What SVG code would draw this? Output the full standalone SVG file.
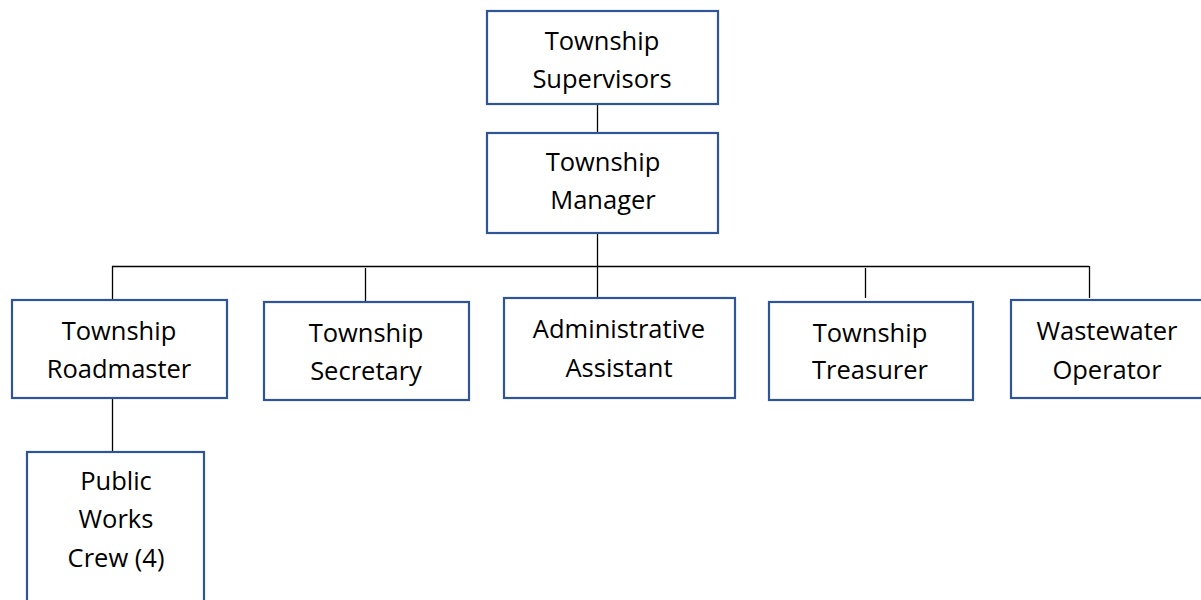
<svg xmlns="http://www.w3.org/2000/svg" width="1201" height="600" viewBox="0 0 1201 600">
  <style>
    .box { fill: #ffffff; stroke: #2f5597; stroke-width: 2.2; }
    .lbl { font-family: "Open Sans", "Noto Sans", sans-serif; font-size: 25.5px; fill: #000000; text-anchor: middle; }
    .wire { stroke: #000000; stroke-width: 1.3; fill: none; }
  </style>
  <rect width="1201" height="600" fill="#ffffff"/>

  <!-- reporting lines -->
  <g id="connectors">
    <line class="wire" x1="597.5" y1="104" x2="597.5" y2="133"/>
    <line class="wire" x1="597.5" y1="233" x2="597.5" y2="298"/>
    <line class="wire" x1="112" y1="266.5" x2="1089" y2="266.5"/>
    <line class="wire" x1="112.5" y1="266" x2="112.5" y2="300"/>
    <line class="wire" x1="365.5" y1="268" x2="365.5" y2="302"/>
    <line class="wire" x1="865.5" y1="268" x2="865.5" y2="298"/>
    <line class="wire" x1="1089.5" y1="266" x2="1089.5" y2="298"/>
    <line class="wire" x1="112.5" y1="398" x2="112.5" y2="452"/>
  </g>

  <g id="supervisors">
    <rect class="box" x="487" y="11" width="231" height="93"/>
    <text class="lbl" x="602" y="50">Township</text>
    <text class="lbl" x="602" y="88">Supervisors</text>
  </g>

  <g id="manager">
    <rect class="box" x="487" y="133" width="231" height="100"/>
    <text class="lbl" x="603" y="171">Township</text>
    <text class="lbl" x="603" y="209">Manager</text>
  </g>

  <g id="roadmaster">
    <rect class="box" x="12" y="300" width="215" height="98"/>
    <text class="lbl" x="119" y="340">Township</text>
    <text class="lbl" x="119" y="378">Roadmaster</text>
  </g>

  <g id="secretary">
    <rect class="box" x="264" y="302" width="205" height="98"/>
    <text class="lbl" x="366" y="342">Township</text>
    <text class="lbl" x="366" y="380">Secretary</text>
  </g>

  <g id="admin-assistant">
    <rect class="box" x="504" y="298" width="231" height="100"/>
    <text class="lbl" x="619" y="338">Administrative</text>
    <text class="lbl" x="619" y="377">Assistant</text>
  </g>

  <g id="treasurer">
    <rect class="box" x="769" y="302" width="204" height="98"/>
    <text class="lbl" x="870" y="342">Township</text>
    <text class="lbl" x="870" y="379">Treasurer</text>
  </g>

  <g id="wastewater">
    <rect class="box" x="1011" y="300" width="200" height="98"/>
    <text class="lbl" x="1107" y="340">Wastewater</text>
    <text class="lbl" x="1107" y="379">Operator</text>
  </g>

  <g id="public-works">
    <rect class="box" x="27" y="452" width="177" height="170"/>
    <text class="lbl" x="116" y="490">Public</text>
    <text class="lbl" x="116" y="528">Works</text>
    <text class="lbl" x="116" y="567">Crew (4)</text>
  </g>
</svg>
